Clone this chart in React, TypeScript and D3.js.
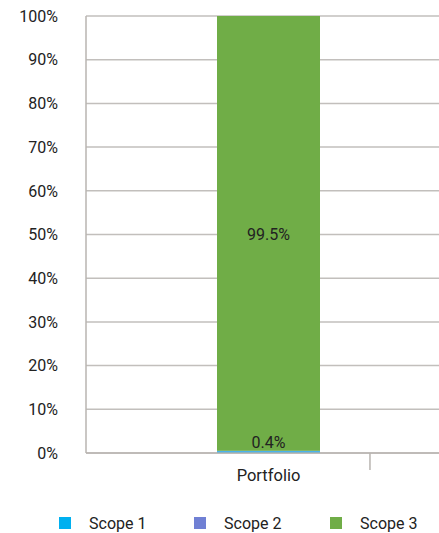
import React from "react";
import * as d3 from "d3";

const categories = ["Portfolio"];
const seriesNames = ["Scope 1", "Scope 2", "Scope 3"];
const scope1 = [0.4];
const scope2 = [0.1];
const scope3 = [99.5];
const yTicks = [0, 10, 20, 30, 40, 50, 60, 70, 80, 90, 100];
const colors = ["#00b0f0", "#7080d4", "#70ad47"];

export default function App() {
  const W = 439, H = 533;
  const left = 86, right = 451, top = 16, bottom = 453;
  const y = d3.scaleLinear().domain([0, 100]).range([bottom, top]);
  const x = d3.scaleBand().domain(categories).range([left, right]).paddingInner(0).paddingOuter(0);
  const barW = 103;
  const rows = categories.map((c, i) => ({ cat: c, s1: scope1[i], s2: scope2[i], s3: scope3[i] }));
  const stack = d3.stack<any>().keys(["s1", "s2", "s3"])(rows);
  const font = "Roboto, 'Noto Sans', sans-serif";
  const tickX = left + (right - left) * 0.778;
  const legendX = [59, 194, 330];
  return (
    <svg width={W} height={H} style={{ position: "absolute", left: 0, top: 0 }} fontFamily={font}>
      {yTicks.map((t) => (
        <g key={t}>
          <line x1={left} x2={right} y1={y(t)} y2={y(t)} stroke="#c2bfbc" strokeWidth={1.5} />
          <text x={58} y={y(t)} dy="0.36em" textAnchor="end" fontSize={16} fill="#222">{t}%</text>
        </g>
      ))}
      {stack.map((layer, li) =>
        layer.map((d, i) => {
          const cx = (x(rows[i].cat) as number) + x.bandwidth() / 2;
          return (
            <rect key={li + "-" + i} x={cx - barW / 2} width={barW} y={y(d[1])} height={Math.max(0, y(d[0]) - y(d[1]))} fill={colors[li]} />
          );
        })
      )}
      {rows.map((r, i) => {
        const cx = (x(r.cat) as number) + x.bandwidth() / 2;
        return (
          <g key={r.cat}>
            <text x={cx} y={y(50)} dy="0.36em" textAnchor="middle" fontSize={16} fill="#222">{r.s3}%</text>
            <text x={cx} y={442} dy="0.36em" textAnchor="middle" fontSize={16} fill="#222">{r.s1}%</text>
            <text x={cx} y={475} dy="0.36em" textAnchor="middle" fontSize={16.5} fill="#222">{r.cat}</text>
          </g>
        );
      })}
      <line x1={left} x2={left} y1={top} y2={bottom} stroke="#b8b4b0" strokeWidth={1.5} />
      <line x1={left} x2={right} y1={bottom} y2={bottom} stroke="#b8b4b0" strokeWidth={1.5} />
      <line x1={tickX} x2={tickX} y1={bottom} y2={470} stroke="#b8b4b0" strokeWidth={1.5} />
      {seriesNames.map((s, i) => (
        <g key={s}>
          <rect x={legendX[i]} y={517} width={12} height={12} fill={colors[i]} />
          <text x={legendX[i] + 30} y={523} dy="0.36em" fontSize={16} fill="#222">{s}</text>
        </g>
      ))}
    </svg>
  );
}
